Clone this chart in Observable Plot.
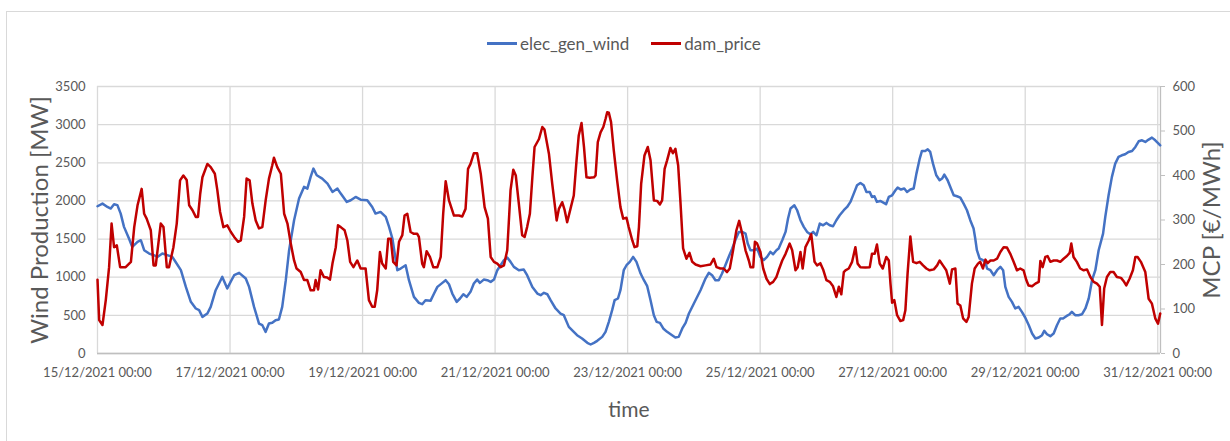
<!DOCTYPE html>
<html>
<head>
<meta charset="utf-8">
<script src="https://cdn.jsdelivr.net/npm/d3@7"></script>
<script src="https://cdn.jsdelivr.net/npm/@observablehq/plot@0.6"></script>
<style>
  html, body { margin: 0; padding: 0; background: #fff; overflow: hidden; }
  #wrap { position: relative; width: 1230px; height: 441px; font-family: Lato, "Liberation Sans", sans-serif; }
  #frame { position: absolute; left: 6px; top: 11px; width: 1400px; height: 600px; border: 1px solid #d9d9d9; box-sizing: border-box; }
  #chart { position: absolute; left: 0; top: 0; }
  #legend { position: absolute; top: 33px; left: 487px; display: flex; align-items: center; color: #595959; font-size: 17px; white-space: nowrap; }
  .sw { display: inline-block; width: 30px; height: 3px; margin-right: 3px; }
  .item { display: flex; align-items: center; }
</style>
</head>
<body>
<div id="wrap">
  <div id="frame"></div>
  <div id="chart"></div>
  <div id="legend">
    <span class="item"><span class="sw" style="background:#4472C4"></span>elec_gen_wind</span>
    <span class="item" style="margin-left:22px"><span class="sw" style="background:#C00000"></span>dam_price</span>
  </div>
</div>
<script>
// hours since 15/12/2021 00:00 and wind production [MW]
const windHours = [0,1.8,3.6,4.8,6.0,7.2,8.4,9.6,11.4,12.6,14.5,15.7,16.9,18.7,20.5,21.7,23.5,25.3,27.1,28.3,30.2,32.0,33.8,35.6,36.8,38.0,39.8,41.0,42.8,44.6,45.2,47.0,48.2,49.5,51.3,
53.7,54.9,56.7,58.5,59.7,60.9,62.1,63.3,64.5,65.7,66.9,68.2,69.4,71.2,73.0,74.8,76.0,77.2,78.2,79.4,81.4,83.3,85.1,86.9,88.1,90.3,91.7,93.5,95.3,97.7,99.5,100.7,102.5,104.4,105.6,106.8,
107.7,108.6,109.8,111.6,112.8,114.6,116.4,117.6,118.8,120.6,121.9,123.1,124.9,126.1,127.3,128.5,130.1,131.3,132.5,133.7,135.1,136.3,137.5,138.5,139.9,141.2,142.4,143.6,144.8,146.0,147.2,148.4,149.6,150.8,152.6,154.4,155.6,157.5,159.3,
160.5,161.7,162.9,164.1,165.9,167.7,168.9,170.7,172.5,173.7,175.5,177.4,178.6,179.8,181.0,182.8,184.0,185.2,186.4,187.3,188.5,189.4,190.6,191.6,192.8,194.0,195.2,196.7,197.9,199.1,200.3,201.5,202.5,203.7,204.9,206.3,208.1,209.3,210.5,211.8,213.0,214.2,216.0,
218.4,220.2,221.4,222.6,223.8,225.0,226.2,227.4,228.6,229.9,231.1,232.3,233.5,234.7,235.5,236.5,237.7,238.9,240.1,241.3,242.5,243.7,244.7,245.9,246.7,248.0,249.2,250.1,251.0,252.4,253.4,254.6,255.8,257.0,258.2,259.2,260.4,261.6,262.8,264.0,265.2,266.4,267.6,268.8,
270.3,271.5,272.7,273.9,275.1,276.3,277.5,278.5,279.7,280.5,281.4,282.3,283.5,284.8,285.6,286.6,287.8,289.0,289.8,291.0,292.2,293.2,294.4,295.6,296.6,297.8,298.6,299.8,300.7,301.6,302.6,303.8,305.0,305.9,306.7,307.9,309.1,310.1,311.3,312.5,313.7,314.9,316.1,317.3,317.9,318.5,319.5,320.7,321.6,322.2,
323.4,324.6,325.8,327.0,328.0,328.8,330.0,331.2,332.4,333.6,334.8,336.0,337.3,338.5,339.7,340.9,342.1,342.9,343.9,345.1,346.3,347.5,348.7,349.7,350.9,352.1,352.9,354.1,355.3,356.6,357.8,359.0,360.2,361.4,362.6,364.2,365.0,366.2,367.4,368.6,369.8,371.0,372.2,373.4,374.7,375.9,377.1,378.3,379.5,380.7,381.9,383.1,384.3,384.9];
const windValues = [1930,1965,1921,1900,1956,1945,1834,1660,1507,1397,1463,1485,1354,1310,1288,1266,1310,1290,1266,1200,1092,873,677,590,568,480,524,611,830,961,1004,852,939,1026,1057,
983,873,611,393,371,284,393,402,437,445,611,961,1354,1747,2031,2184,2162,2315,2424,2336,2293,2227,2118,2162,2096,1987,2009,2052,2017,2009,1921,1834,1856,1790,1660,1507,
1300,1092,1114,1157,961,742,664,646,699,690,786,873,926,961,908,786,677,721,777,742,808,917,969,926,969,961,939,969,1092,1157,1223,1258,1201,1135,1092,1100,1026,873,786,
764,795,777,699,590,524,502,349,284,240,197,140,118,140,166,218,284,415,568,699,721,830,1092,1157,1201,1266,1201,1048,961,882,699,502,415,402,328,284,240,210,218,328,402,524,655,
830,983,1057,1026,961,961,1048,1157,1266,1376,1494,1594,1594,1572,1441,1354,1354,1376,1266,1223,1266,1332,1301,1354,1376,1485,1594,1769,1900,1943,1878,1747,1660,1594,1563,1594,1550,1703,1681,1712,1681,1668,1747,1812,
1878,1921,1987,2096,2205,2236,2205,2118,2118,2052,2061,1987,2000,1974,1956,2052,2074,2140,2175,2149,2162,2118,2149,2162,2358,2555,2655,2655,2677,2642,2489,2336,2271,2293,2345,2271,2162,2074,2061,2044,1965,1878,1747,1638,1507,1354,1245,1223,1188,1114,
1092,1026,1092,1135,1092,873,742,677,590,611,546,472,371,262,197,210,240,297,253,227,262,371,459,459,489,515,546,502,502,515,590,721,961,1092,1354,1572,1790,2074,2315,2489,2577,2598,2611,2642,2655,2708,2782,2795,2773,2804,2830,2795,2751,2729];

// hours since 15/12/2021 00:00 and day-ahead market price [€/MWh]
const priceHours = [0,0.6,1.8,3.0,4.2,5.1,6.0,7.0,8.2,10.2,12.1,13.3,14.5,16.0,16.9,17.8,19.3,20.3,21.1,22.9,23.9,25.1,25.9,27.5,28.7,29.9,31.1,32.3,33.2,34.4,35.6,36.4,37.2,38.0,39.8,41.0,42.5,43.4,44.4,45.6,47.0,48.3,49.5,50.9,
51.9,53.1,54.0,55.1,56.1,57.3,58.5,59.7,60.9,62.1,63.3,63.9,65.1,66.4,67.6,68.8,70.0,71.2,72.1,73.6,74.8,76.0,77.2,78.4,79.0,79.9,80.8,82.0,83.2,84.2,85.1,86.3,87.1,88.1,89.5,90.5,91.5,92.7,94.1,95.3,97.1,98.3,99.5,100.4,101.3,102.3,103.1,104.4,105.3,
106.2,107.1,108.3,109.2,110.4,111.2,112.2,113.4,114.6,115.8,116.4,117.6,118.2,119.2,120.4,121.6,123.1,124.3,125.2,126.1,127.3,129.1,130.9,132.1,133.3,134.2,135.1,136.3,137.5,138.8,140.2,141.4,142.4,143.6,144.8,146.0,147.2,148.4,149.0,149.6,150.6,151.5,152.6,153.8,154.7,155.6,156.6,157.5,158.3,159.9,161.1,161.9,
163.5,164.7,166.3,167.1,168.3,169.2,170.1,171.3,172.5,173.5,174.3,175.3,176.2,177.1,178.3,179.8,180.4,181.2,182.2,183.2,184.0,184.6,185.2,186.0,187.0,188.2,189.4,190.4,191.6,192.4,193.7,194.5,195.5,196.1,196.9,198.1,199.3,200.3,201.5,202.7,203.7,204.5,205.4,206.3,207.5,208.4,209.3,210.3,211.1,212.1,213.3,214.4,
215.4,216.6,218.4,220.2,222.0,223.2,224.2,225.6,226.8,228.0,229.0,230.2,231.4,232.4,233.5,234.7,235.9,236.5,237.5,238.1,238.9,240.1,241.1,242.3,243.5,244.7,245.9,246.7,248.0,249.2,250.7,251.6,252.8,253.6,254.6,255.4,256.4,257.6,258.5,259.7,260.6,261.8,262.8,264.0,265.2,266.4,267.6,268.5,269.4,
270.3,270.9,272.1,273.3,274.5,275.3,276.3,278.1,279.7,280.5,281.5,282.3,283.3,284.4,285.7,286.6,287.2,287.8,288.6,289.6,290.8,291.8,292.6,293.4,294.4,295.4,296.6,297.8,299.0,300.2,301.4,302.9,304.1,305.0,306.2,307.4,308.7,309.5,310.7,311.5,312.5,313.5,314.7,315.5,316.7,317.7,318.9,319.7,320.7,321.6,322.4,
323.4,324.6,325.8,327.0,328.2,329.4,330.6,331.8,333.0,334.2,335.4,336.4,337.2,338.5,339.7,340.9,341.5,342.3,343.3,344.1,345.1,346.3,347.5,348.7,349.9,351.1,352.1,352.7,353.5,354.7,355.9,357.2,358.4,359.6,360.8,362.0,363.0,363.8,364.6,365.6,366.8,368.0,369.2,370.7,371.6,372.6,373.8,375.0,375.9,376.7,377.9,379.5,380.7,381.9,383.1,384.1,384.9];
const priceValues = [166,75,64,120,194,292,239,243,194,194,206,284,333,370,314,303,277,198,198,292,284,194,194,239,292,389,400,390,333,322,307,307,359,396,426,419,404,367,318,284,288,273,262,251,
254,307,393,389,337,299,281,284,344,393,423,440,419,404,314,292,247,209,191,183,165,165,142,142,165,144,187,172,171,166,202,239,288,284,277,254,206,194,209,191,191,120,105,105,142,228,202,191,258,
258,206,198,251,266,310,314,273,269,269,262,202,194,230,217,194,194,217,314,387,344,310,310,308,325,415,426,450,450,404,329,303,217,206,202,194,198,232,299,367,413,400,337,266,262,284,314,396,464,482,509,503,
449,381,299,325,340,322,295,325,355,434,490,518,464,396,395,396,400,475,497,509,527,542,541,520,456,389,329,303,305,284,254,239,241,284,381,445,464,434,344,343,335,344,415,434,462,450,460,423,344,236,213,226,
206,200,196,198,200,213,194,191,191,183,191,232,277,298,269,232,209,194,194,251,247,228,191,168,156,161,172,187,209,224,247,232,187,194,228,191,239,254,268,206,198,203,189,165,161,151,127,150,133,
183,187,191,206,239,202,194,193,194,224,224,245,202,191,217,209,157,114,120,86,73,75,97,180,263,206,203,206,198,191,187,189,198,209,198,187,157,189,191,112,108,79,71,82,157,191,202,206,191,211,203,
209,209,213,228,239,238,224,206,187,191,187,165,153,151,157,161,208,194,217,219,206,209,209,206,213,219,226,247,217,206,191,187,189,172,161,157,150,64,146,172,183,183,172,170,163,153,168,187,217,217,206,183,123,112,79,67,90];

const windTicks = [0, 500, 1000, 1500, 2000, 2500, 3000, 3500];
const priceTicks = [0, 100, 200, 300, 400, 500, 600];
const dayTicks = [0, 2, 4, 6, 8, 10, 12, 14, 16]; // days after 15/12/2021

const t0 = Date.UTC(2021, 11, 15);
const toDate = h => new Date(t0 + h * 3600e3);
const k = 3500 / 600; // price -> wind scale factor

const wind = windHours.map((h, i) => ({t: toDate(h), v: windValues[i]}));
const price = priceHours.map((h, i) => ({t: toDate(h), v: priceValues[i]}));
const dateTicks = dayTicks.map(d => toDate(d * 24));
const fmt = d3.utcFormat("%d/%m/%Y %H:%M");
const grey = "#595959";

const chart = Plot.plot({
  width: 1230,
  height: 441,
  marginLeft: 97,
  marginRight: 70,
  marginTop: 86,
  marginBottom: 88,
  style: {fontFamily: "Lato, 'Liberation Sans', sans-serif", fontSize: "13px", color: grey, background: "transparent", overflow: "visible"},
  x: {type: "utc", domain: [toDate(0), toDate(385)]},
  y: {domain: [0, 3500]},
  marks: [
    Plot.gridY(windTicks, {stroke: "#d9d9d9", strokeOpacity: 1, strokeWidth: 1.3}),
    Plot.gridX(dateTicks, {stroke: "#d9d9d9", strokeOpacity: 1, strokeWidth: 1.3}),
    Plot.ruleY([0], {stroke: "#bfbfbf", strokeWidth: 1.3}),
    Plot.ruleX([toDate(385)], {stroke: "#bfbfbf", strokeWidth: 1.3}),
    Plot.axisY({ticks: windTicks, tickFormat: d => String(d), tickSize: 0, tickPadding: 12, label: null, fill: grey}),
    Plot.axisY({anchor: "right", ticks: priceTicks.map(p => p * k), tickFormat: d => String(Math.round(d / k)), tickSize: 4, tickPadding: 8, stroke: "#bfbfbf", label: null, fill: grey}),
    Plot.axisX({ticks: dateTicks, tickFormat: fmt, tickSize: 0, tickPadding: 14, label: null, fill: grey}),
    Plot.text(["Wind Production [MW]"], {frameAnchor: "left", dx: -57, rotate: -90, fontSize: 24, fill: grey, textAnchor: "middle", lineAnchor: "middle"}),
    Plot.text(["MCP [€/MWh]"], {frameAnchor: "right", dx: 52, rotate: -90, fontSize: 24, fill: grey, textAnchor: "middle", lineAnchor: "middle"}),
    Plot.text(["time"], {frameAnchor: "bottom", dy: 57, fontSize: 21, fill: grey, textAnchor: "middle", lineAnchor: "middle"}),
    Plot.line(wind, {x: "t", y: "v", stroke: "#4472C4", strokeWidth: 2.5}),
    Plot.line(price, {x: "t", y: d => d.v * k, stroke: "#C00000", strokeWidth: 2.5})
  ]
});
document.getElementById("chart").appendChild(chart);
</script>
</body>
</html>
